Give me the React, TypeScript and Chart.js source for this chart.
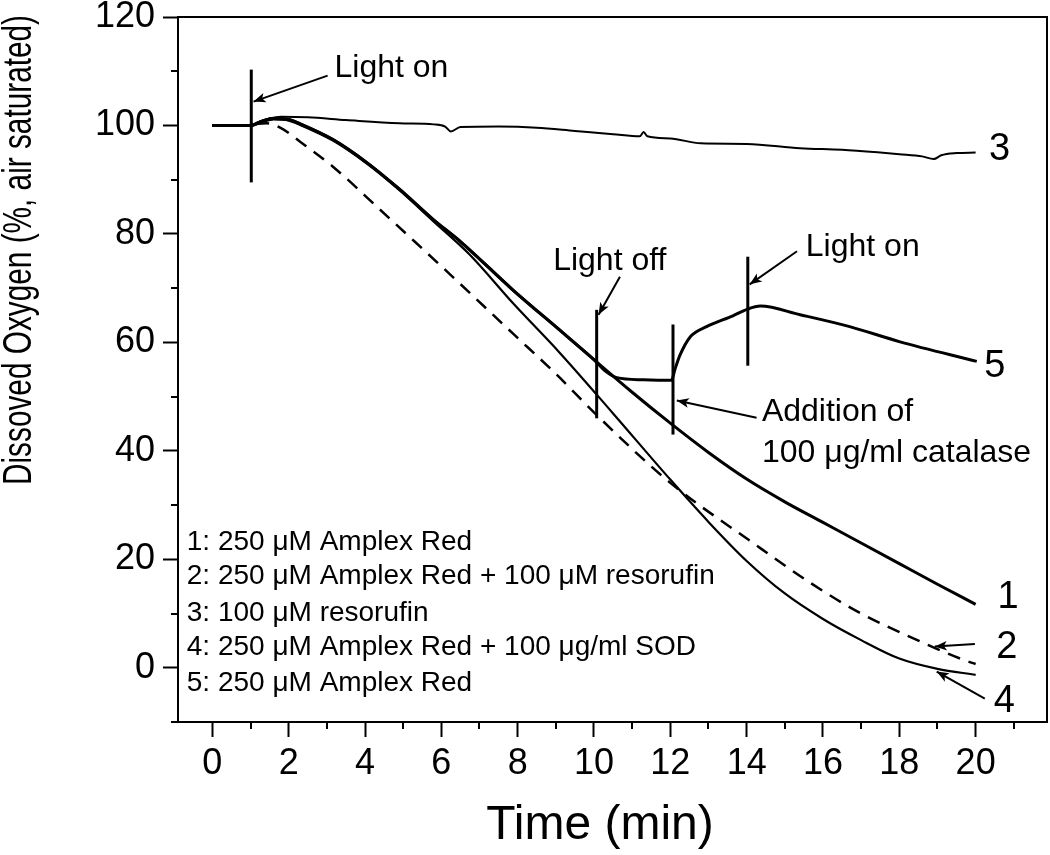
import React, { useEffect, useRef } from "react";
import { Chart, registerables } from "chart.js";

Chart.register(...registerables);

const FONT = '"Liberation Sans", Arial, Helvetica, sans-serif';

// ---- Axis ticks ----
const X_MAJOR = [0, 2, 4, 6, 8, 10, 12, 14, 16, 18, 20];
const X_MINOR = [1, 3, 5, 7, 9, 11, 13, 15, 17, 19, 21];
const Y_MAJOR = [0, 20, 40, 60, 80, 100, 120];
const Y_MINOR = [-10, 10, 30, 50, 70, 90, 110];

// ---- Curve 1: 250 µM Amplex Red ----
const TIME_1 = [0, 1, 1.3, 1.6, 2.0, 2.3, 3.16, 4.04, 4.91, 5.78, 6.5, 7.87, 9.18, 10.0, 11.0, 12.0, 13.0, 14.0, 15.0, 16.0, 17.0, 18.0, 19.0, 20.0];
const O2_1 = [100, 100, 100.8, 101.3, 101.1, 100.3, 97.4, 93.2, 88.2, 82.7, 78.6, 69.7, 61.8, 56.8, 50.8, 45.1, 39.7, 34.8, 30.6, 26.8, 23.0, 19.2, 15.4, 11.7];

// ---- Curve 2: Amplex Red + resorufin (dashed) ----
const TIME_2 = [0, 1, 1.2, 1.42, 1.8, 2.3, 3.16, 4.39, 5.3, 6.22, 7.88, 9.0, 10.07, 12.0, 14.17, 15.66, 16.97, 18.28, 19.67, 20.0];
const O2_2 = [100, 100, 100.3, 100.4, 99.5, 97.0, 92.4, 84.5, 78.6, 72.6, 61.6, 54.2, 46.6, 34.1, 23.0, 15.7, 10.1, 5.7, 1.5, 0.7];

// ---- Curve 3: 100 µM resorufin ----
const TIME_3 = [0, 0.5, 1, 1.2, 1.5, 1.8, 2.5, 3.5, 4.9, 5.8, 6.1, 6.25, 6.5, 7.5, 8.5, 9.5, 10.5, 11.2, 11.3, 11.4, 12, 12.8, 14, 15.4, 16.5, 17.5, 18.0, 18.6, 18.9, 19.1, 19.5, 20];
const O2_3 = [100, 100.1, 100, 100.6, 101.3, 101.6, 101.5, 101.0, 100.4, 100.2, 99.8, 98.9, 99.7, 99.8, 99.6, 99.0, 98.4, 98.0, 98.8, 98.0, 97.6, 96.7, 96.6, 95.8, 95.5, 95.0, 94.7, 94.3, 93.8, 94.5, 94.9, 95.0];

// ---- Curve 4: Amplex Red + SOD ----
const TIME_4 = [0, 1, 1.3, 1.6, 2.0, 2.3, 3.16, 4.04, 4.91, 5.78, 6.74, 7.88, 9.1, 10.5, 12.0, 13.0, 14.0, 15.0, 16.0, 17.0, 18.0, 19.0, 20.0];
const O2_4 = [100, 100, 100.6, 101.1, 100.9, 100.1, 97.2, 93.0, 88.0, 82.4, 76.2, 67.2, 58.1, 46.9, 34.7, 26.9, 19.7, 13.7, 9.0, 5.1, 1.7, -0.2, -1.3];

// ---- Curve 5: Amplex Red, light off / catalase / light on ----
const TIME_5 = [0, 1, 1.3, 1.6, 2.0, 2.3, 3.16, 4.04, 4.91, 5.78, 6.5, 7.87, 9.18, 10.0, 10.3, 10.6, 11.3, 12.03, 12.12, 12.25, 12.52, 12.95, 13.64, 14.01, 14.36, 15.4, 16.7, 18.02, 20.03];
const O2_5 = [100, 100, 100.8, 101.3, 101.1, 100.3, 97.4, 93.2, 88.2, 82.7, 78.6, 69.7, 61.8, 56.8, 54.7, 53.5, 53.1, 53.0, 55.0, 57.6, 61.0, 62.9, 64.9, 66.1, 66.7, 65.1, 62.9, 60.1, 56.5];

// ---- Event markers (vertical bars): time, low, high ----
const MARK_TIME = [1.02, 10.07, 12.07, 14.03];
const MARK_LOW = [89.5, 46.0, 43.0, 55.7];
const MARK_HIGH = [110.3, 66.0, 63.3, 75.8];

// ---- Annotation texts ----
const NOTE_TEXT = ["Light on", "Light off", "Light on", "Addition of", "100 \u03bcg/ml catalase"];
const NOTE_X = [3.2, 8.93, 15.55, 14.4, 14.4];
const NOTE_Y = [110.5, 75.0, 77.6, 47.2, 39.5];

// ---- Arrows: tail -> tip ----
const ARROW_X0 = [3.02, 10.68, 14.26, 15.32, 19.98, 20.24];
const ARROW_Y0 = [109.2, 72.1, 46.1, 76.8, 4.4, -5.7];
const ARROW_X1 = [1.08, 10.12, 12.17, 14.08, 18.93, 18.98];
const ARROW_Y1 = [104.4, 65.1, 49.3, 70.7, 3.9, -0.7];

// ---- Curve number labels ----
const CURVE_LABEL = ["3", "5", "1", "2", "4"];
const CURVE_LABEL_X = [20.63, 20.5, 20.85, 20.82, 20.75];
const CURVE_LABEL_Y = [95.6, 55.5, 12.9, 3.7, -6.3];

// ---- Legend (key) text ----
const KEY_TEXT = [
  "1: 250 \u03bcM Amplex Red",
  "2: 250 \u03bcM Amplex Red + 100 \u03bcM resorufin",
  "3: 100 \u03bcM resorufin",
  "4: 250 \u03bcM Amplex Red + 100 \u03bcg/ml SOD",
  "5: 250 \u03bcM Amplex Red",
];
const KEY_X = -0.67;
const KEY_Y = [23.2, 16.8, 10.1, 3.7, -2.8];

const X_TITLE = "Time (min)";
const Y_TITLE = "Dissoved Oxygen (%, air saturated)";

const pts = (t: number[], v: number[]) => t.map((x, i) => ({ x, y: v[i] }));

const drawArrow = (ctx: CanvasRenderingContext2D, x0: number, y0: number, x1: number, y1: number) => {
  const ang = Math.atan2(y1 - y0, x1 - x0);
  const L = 13;
  const spread = 0.38;
  ctx.beginPath();
  ctx.moveTo(x0, y0);
  ctx.lineTo(x1, y1);
  ctx.stroke();
  ctx.beginPath();
  ctx.moveTo(x1, y1);
  ctx.lineTo(x1 - L * Math.cos(ang - spread), y1 - L * Math.sin(ang - spread));
  ctx.lineTo(x1 - L * 0.7 * Math.cos(ang), y1 - L * 0.7 * Math.sin(ang));
  ctx.lineTo(x1 - L * Math.cos(ang + spread), y1 - L * Math.sin(ang + spread));
  ctx.closePath();
  ctx.fill();
};

const decorPlugin = {
  id: "decor",
  beforeDraw(chart: any) {
    const { ctx, width, height } = chart;
    ctx.save();
    ctx.fillStyle = "#fff";
    ctx.fillRect(0, 0, width, height);
    ctx.restore();
  },
  afterDraw(chart: any) {
    const { ctx, chartArea: a, scales } = chart;
    const xs = scales.x;
    const ys = scales.y;
    const px = (v: number) => xs.getPixelForValue(v);
    const py = (v: number) => ys.getPixelForValue(v);
    ctx.save();
    ctx.strokeStyle = "#000";
    ctx.fillStyle = "#000";
    ctx.lineWidth = 2;
    // frame top / right
    ctx.beginPath();
    ctx.moveTo(a.left - 1, a.top);
    ctx.lineTo(a.right, a.top);
    ctx.lineTo(a.right, a.bottom + 1);
    ctx.stroke();
    // minor ticks
    X_MINOR.forEach((v) => {
      const X = Math.round(px(v));
      if (X < a.left || X > a.right) return;
      ctx.beginPath();
      ctx.moveTo(X, a.bottom);
      ctx.lineTo(X, a.bottom + 7);
      ctx.stroke();
    });
    Y_MINOR.forEach((v) => {
      const Y = Math.round(py(v));
      ctx.beginPath();
      ctx.moveTo(a.left, Y);
      ctx.lineTo(a.left - 7, Y);
      ctx.stroke();
    });
    // titles
    ctx.textBaseline = "middle";
    ctx.textAlign = "center";
    ctx.font = `48px ${FONT}`;
    ctx.fillText(X_TITLE, 600, 826);
    ctx.save();
    ctx.translate(20, 250);
    ctx.rotate(-Math.PI / 2);
    ctx.font = `40px ${FONT}`;
    ctx.fillText(Y_TITLE, 0, 0, 470);
    ctx.restore();
    // key
    ctx.textAlign = "left";
    ctx.font = `28px ${FONT}`;
    KEY_TEXT.forEach((t, i) => ctx.fillText(t, px(KEY_X), py(KEY_Y[i])));
    // notes
    ctx.font = `32px ${FONT}`;
    NOTE_TEXT.forEach((t, i) => ctx.fillText(t, px(NOTE_X[i]), py(NOTE_Y[i])));
    // curve labels
    ctx.textAlign = "center";
    ctx.font = `38px ${FONT}`;
    CURVE_LABEL.forEach((t, i) => ctx.fillText(t, px(CURVE_LABEL_X[i]), py(CURVE_LABEL_Y[i])));
    // arrows
    ctx.lineWidth = 2;
    ARROW_X0.forEach((_, i) =>
      drawArrow(ctx, px(ARROW_X0[i]), py(ARROW_Y0[i]), px(ARROW_X1[i]), py(ARROW_Y1[i]))
    );
    ctx.restore();
  },
};

export default function App() {
  const ref = useRef<HTMLCanvasElement | null>(null);
  useEffect(() => {
    if (!ref.current) return;
    const line = (data: any[], width: number, dash: number[] = []) => ({
      data,
      borderColor: "#000",
      borderWidth: width,
      borderDash: dash,
      pointRadius: 0,
      fill: false,
      cubicInterpolationMode: "monotone" as const,
    });
    const markers = MARK_TIME.map((t, i) => ({
      data: [
        { x: t, y: MARK_LOW[i] },
        { x: t, y: MARK_HIGH[i] },
      ],
      borderColor: "#000",
      borderWidth: 3,
      pointRadius: 0,
      tension: 0,
      fill: false,
    }));
    const chart = new Chart(ref.current, {
      type: "line",
      data: {
        datasets: [
          line(pts(TIME_3, O2_3), 2),
          line(pts(TIME_2, O2_2), 2.5, [13, 9]),
          line(pts(TIME_4, O2_4), 2.2),
          line(pts(TIME_1, O2_1), 3),
          line(pts(TIME_5, O2_5), 3),
          ...markers,
        ] as any,
      },
      options: {
        animation: false,
        responsive: false,
        devicePixelRatio: 1,
        layout: { padding: { top: 17, right: 3, left: 0, bottom: 0 } },
        plugins: { legend: { display: false }, tooltip: { enabled: false } },
        scales: {
          x: {
            type: "linear",
            min: -0.9,
            max: 21.87,
            afterBuildTicks: (s: any) => {
              s.ticks = X_MAJOR.map((v) => ({ value: v }));
            },
            afterFit: (s: any) => {
              s.height = 133;
              s.paddingLeft = 0;
              s.paddingRight = 0;
            },
            grid: {
              display: true,
              drawOnChartArea: false,
              drawTicks: true,
              tickLength: 15,
              tickWidth: 2,
              tickColor: "#000",
            },
            border: { display: true, color: "#000", width: 2 },
            ticks: {
              color: "#000",
              font: { size: 36, family: FONT },
              padding: 5,
              maxRotation: 0,
              autoSkip: false,
            },
          },
          y: {
            type: "linear",
            min: -10,
            max: 120,
            afterBuildTicks: (s: any) => {
              s.ticks = Y_MAJOR.map((v) => ({ value: v }));
            },
            afterFit: (s: any) => {
              s.width = 178;
              s.paddingTop = 0;
              s.paddingBottom = 0;
            },
            grid: {
              display: true,
              drawOnChartArea: false,
              drawTicks: true,
              tickLength: 15,
              tickWidth: 2,
              tickColor: "#000",
            },
            border: { display: true, color: "#000", width: 2 },
            ticks: {
              color: "#000",
              font: { size: 36, family: FONT },
              padding: 8,
              autoSkip: false,
            },
          },
        },
      },
      plugins: [decorPlugin],
    });
    return () => chart.destroy();
  }, []);
  return (
    <div style={{ position: "absolute", left: 0, top: 0, width: 1050, height: 855 }}>
      <canvas ref={ref} width={1050} height={855} />
    </div>
  );
}
